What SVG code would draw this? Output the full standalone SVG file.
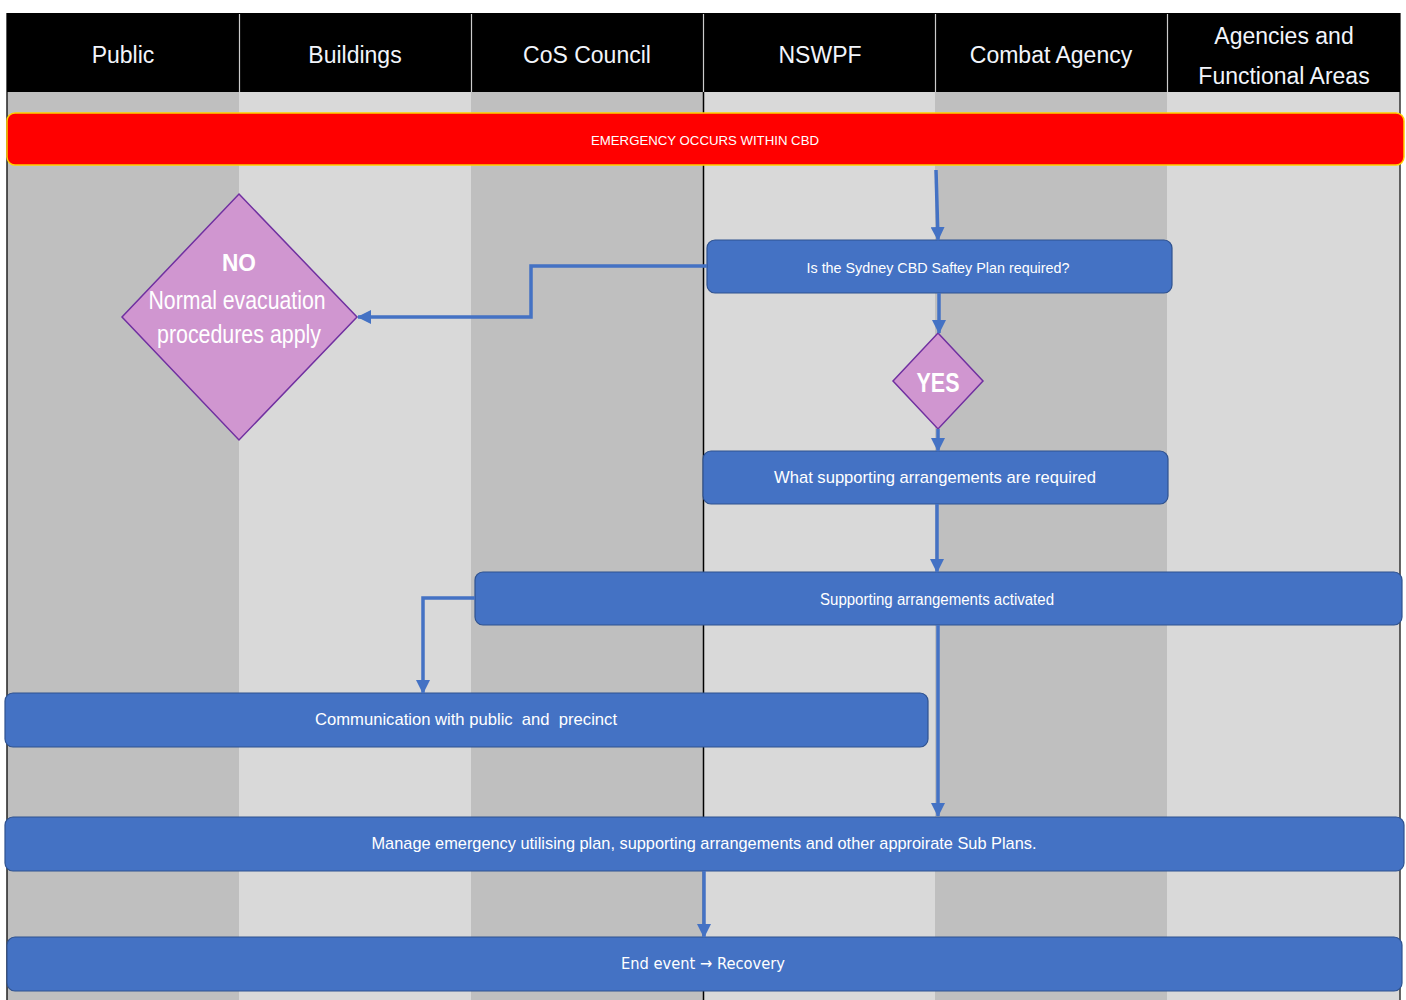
<svg xmlns="http://www.w3.org/2000/svg" width="1406" height="1000" viewBox="0 0 1406 1000">
<style>
.hdr{font-family:"Liberation Sans",Arial,sans-serif;font-size:23px;fill:#f2f5fb;text-anchor:middle}
.box{fill:#4472c4;stroke:#2f528f;stroke-width:1.2}
.bt{font-family:"Liberation Sans",Arial,sans-serif;fill:#ffffff;text-anchor:middle;dominant-baseline:central}
.dia{fill:#d096d0;stroke:#7030a0;stroke-width:1.5}
.con{fill:none;stroke:#4472c4;stroke-width:3.5;marker-end:url(#arr)}
.dark{fill:#bfbfbf}
.light{fill:#d9d9d9}
</style>
<defs>
<marker id="arr" markerUnits="userSpaceOnUse" markerWidth="14" markerHeight="14" refX="13" refY="7" orient="auto">
<path d="M0,0 L14,7 L0,14 z" fill="#4472c4"/>
</marker>
</defs>
<rect width="1406" height="1000" fill="#ffffff"/>
<g id="lanes">
<rect class="dark" x="7" y="92" width="232" height="908"/>
<rect class="light" x="239" y="92" width="232" height="908"/>
<rect class="dark" x="471" y="92" width="232" height="908"/>
<rect class="light" x="703" y="92" width="232" height="908"/>
<rect class="dark" x="935" y="92" width="232" height="908"/>
<rect class="light" x="1167" y="92" width="233" height="908"/>
<line x1="7" y1="13" x2="7" y2="1000" stroke="#222" stroke-width="1.5"/>
<line x1="1400" y1="13" x2="1400" y2="1000" stroke="#333" stroke-width="1.5"/>
<line x1="703.5" y1="92" x2="703.5" y2="1000" stroke="#000" stroke-width="1.5"/>
</g>
<g id="header">
<rect x="7" y="13" width="1393" height="79" fill="#000000"/>
<g stroke="#cccccc" stroke-width="1.2">
<line x1="239.5" y1="14" x2="239.5" y2="92"/>
<line x1="471.5" y1="14" x2="471.5" y2="92"/>
<line x1="703.5" y1="14" x2="703.5" y2="92"/>
<line x1="935.5" y1="14" x2="935.5" y2="92"/>
<line x1="1167.5" y1="14" x2="1167.5" y2="92"/>
</g>
<text class="hdr" x="123" y="63">Public</text>
<text class="hdr" x="355" y="63">Buildings</text>
<text class="hdr" x="587" y="63">CoS Council</text>
<text class="hdr" x="820" y="63">NSWPF</text>
<text class="hdr" x="1051" y="63">Combat Agency</text>
<text class="hdr" x="1284" y="44">Agencies and</text>
<text class="hdr" x="1284" y="84">Functional Areas</text>
</g>
<g id="n-emergency">
<rect x="7" y="113" width="1397" height="52" rx="8" fill="#ff0000" stroke="#ffd000" stroke-width="1.5"/>
<text class="bt" x="705" y="140" font-size="13" textLength="228" lengthAdjust="spacingAndGlyphs">EMERGENCY OCCURS WITHIN CBD</text>
</g>
<g id="n-plan-required">
<rect class="box" x="707" y="240" width="465" height="53" rx="8"/>
<text class="bt" x="938" y="267" font-size="15" textLength="263" lengthAdjust="spacingAndGlyphs">Is the Sydney CBD Saftey Plan required?</text>
</g>
<g id="n-yes">
<polygon class="dia" points="938,333 983,381 938,429 893,381"/>
<text class="bt" x="938" y="383" font-size="27" font-weight="bold" textLength="43" lengthAdjust="spacingAndGlyphs">YES</text>
</g>
<g id="n-no">
<polygon class="dia" points="239,194 357,317 239,440 122,317"/>
<text class="bt" x="239" y="262" font-size="24" font-weight="bold" textLength="34" lengthAdjust="spacingAndGlyphs">NO</text>
<text class="bt" x="237" y="300" font-size="25" textLength="177" lengthAdjust="spacingAndGlyphs">Normal evacuation</text>
<text class="bt" x="239" y="334" font-size="25" textLength="164" lengthAdjust="spacingAndGlyphs">procedures apply</text>
</g>
<g id="n-what-supporting">
<rect class="box" x="703" y="451" width="465" height="53" rx="8"/>
<text class="bt" x="935" y="477" font-size="17" textLength="322" lengthAdjust="spacingAndGlyphs">What supporting arrangements are required</text>
</g>
<g id="n-activated">
<rect class="box" x="475" y="572" width="927" height="53" rx="8"/>
<text class="bt" x="937" y="599" font-size="16" textLength="234" lengthAdjust="spacingAndGlyphs">Supporting arrangements activated</text>
</g>
<g id="n-communication">
<rect class="box" x="5" y="693" width="923" height="54" rx="8"/>
<text class="bt" x="466" y="719" font-size="17" xml:space="preserve" textLength="302" lengthAdjust="spacingAndGlyphs">Communication with public  and  precinct</text>
</g>
<g id="n-manage">
<rect class="box" x="5" y="817" width="1399" height="54" rx="8"/>
<text class="bt" x="704" y="843" font-size="17" textLength="665" lengthAdjust="spacingAndGlyphs">Manage emergency utilising plan, supporting arrangements and other approirate Sub Plans.</text>
</g>
<g id="n-end">
<rect class="box" x="7" y="937" width="1395" height="54" rx="8"/>
<text class="bt" x="703" y="963" font-size="16" style="font-family:'DejaVu Sans',sans-serif" textLength="164" lengthAdjust="spacingAndGlyphs">End event → Recovery</text>
</g>
<g id="connectors">
<path class="con" d="M936,170 L938,240"/>
<path class="con" d="M939,293 V333"/>
<path class="con" d="M938,429 V451"/>
<path class="con" d="M937,504 L937,572"/>
<path class="con" d="M707,266 H531 V317 H358"/>
<path class="con" d="M475,598 H423 V693"/>
<path class="con" d="M938,625 V816"/>
<path class="con" d="M704,871 V937"/>
</g>
</svg>
